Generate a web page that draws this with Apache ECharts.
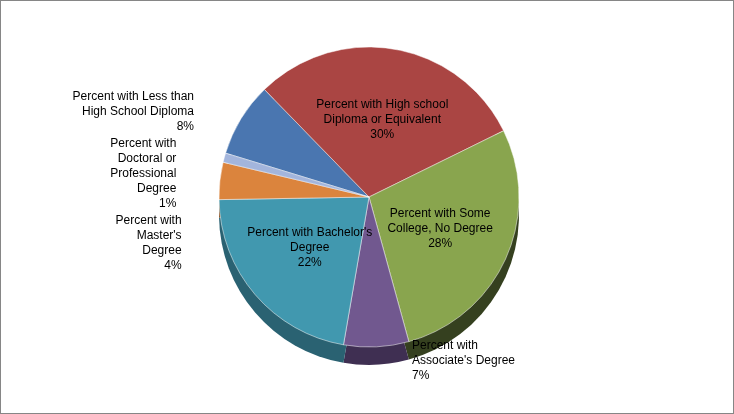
<!DOCTYPE html>
<html><head><meta charset="utf-8">
<script src="https://cdn.jsdelivr.net/npm/echarts@6/dist/echarts.min.js"></script>
<style>html,body{margin:0;padding:0;background:#fff}#c{width:734px;height:414px;box-sizing:border-box;border:1px solid #868686}</style>
</head><body><div id="c"></div>
<script>
const categories = ["Percent with Less than\nHigh School Diploma","Percent with High school\nDiploma or Equivalent","Percent with Some\nCollege, No Degree","Percent with\nAssociate's Degree","Percent with Bachelor's\nDegree","Percent with\nMaster's\nDegree","Percent with\nDoctoral or\nProfessional\nDegree"];
const values = [8,30,28,7,22,4,1];
const colors = ["#4a76b0","#aa4543","#89a54e","#71588f","#4198af","#db843d","#a3b5dc"];
const depthColors = ["#2c4870","#6a2a29","#35401f","#3f2f52","#2a6272","#8a5020","#6a7590"];
const inside = [false,true,true,false,true,false,false];
const chart = echarts.init(document.getElementById('c'));
const data = values.map((v,i)=>({value:v,name:categories[i],itemStyle:{color:colors[i]},
  label:{position: inside[i]?'inside':'outside'}}));
chart.setOption({
  animation:false,
  series:[
    {type:'pie',silent:true,center:[368,214],radius:150,startAngle:163,
     data:values.map((v,i)=>({value:v,itemStyle:{color:depthColors[i]}})),
     label:{show:false},labelLine:{show:false},z:1},
    {type:'pie',center:[368,196],radius:150,startAngle:163,data:data,
     itemStyle:{borderColor:'#ffffff',borderWidth:0.5},
     label:{formatter:'{b}\n{c}%',fontFamily:'Liberation Sans',fontSize:12,color:'#000',lineHeight:15,align:'center'},
     labelLine:{show:false,length:14,length2:30},z:2}
  ]
});
</script></body></html>
